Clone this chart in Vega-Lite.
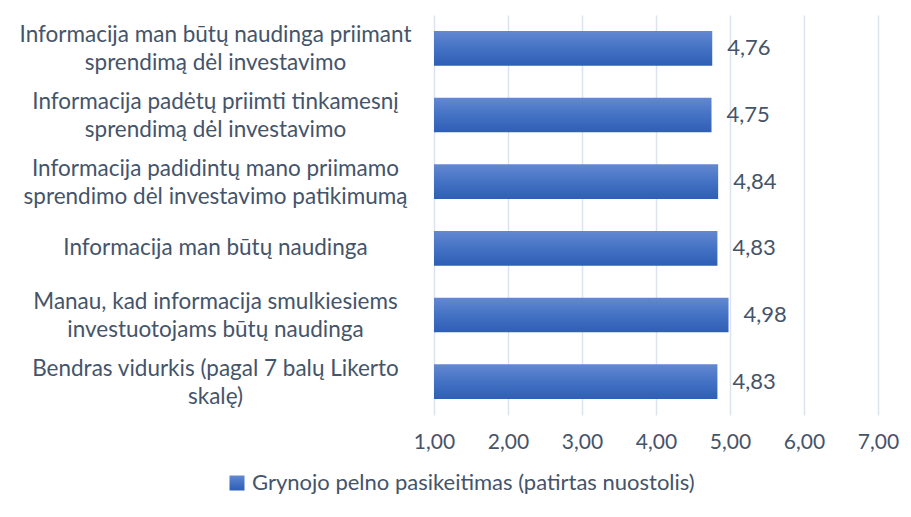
{
  "$schema": "https://vega.github.io/schema/vega-lite/v6.json",
  "width": 444,
  "height": 400,
  "autosize": {"type": "none"},
  "padding": {"left": 434, "top": 15, "right": 33, "bottom": 102},
  "background": "white",
  "config": {
    "font": "Lato",
    "view": {"stroke": null},
    "locale": {"number": {"decimal": ",", "thousands": " ", "grouping": [3], "currency": ["", " €"]}}
  },
  "data": {
    "values": [
      {"kategorija": "Informacija man būtų naudinga priimant|sprendimą dėl investavimo", "vidurkis": 4.76, "serija": "Grynojo pelno pasikeitimas (patirtas nuostolis)"},
      {"kategorija": "Informacija padėtų priimti tinkamesnį|sprendimą dėl investavimo", "vidurkis": 4.75, "serija": "Grynojo pelno pasikeitimas (patirtas nuostolis)"},
      {"kategorija": "Informacija padidintų mano priimamo|sprendimo dėl investavimo patikimumą", "vidurkis": 4.84, "serija": "Grynojo pelno pasikeitimas (patirtas nuostolis)"},
      {"kategorija": "Informacija man būtų naudinga", "vidurkis": 4.83, "serija": "Grynojo pelno pasikeitimas (patirtas nuostolis)"},
      {"kategorija": "Manau, kad informacija smulkiesiems|investuotojams būtų naudinga", "vidurkis": 4.98, "serija": "Grynojo pelno pasikeitimas (patirtas nuostolis)"},
      {"kategorija": "Bendras vidurkis (pagal 7 balų Likerto|skalę)", "vidurkis": 4.83, "serija": "Grynojo pelno pasikeitimas (patirtas nuostolis)"}
    ]
  },
  "encoding": {
    "y": {
      "field": "kategorija",
      "type": "nominal",
      "sort": null,
      "scale": {"paddingInner": 0.48, "paddingOuter": 0.24},
      "axis": {
        "title": null,
        "ticks": false,
        "domain": false,
        "grid": false,
        "labelExpr": "split(datum.label, '|')",
        "labelAlign": "center",
        "labelBaseline": "middle",
        "labelOffset": {"condition": {"test": "indexof(datum.value, '|') >= 0", "value": -13}, "value": 0},
        "labelPadding": 219,
        "labelFontSize": 22.5,
        "labelLineHeight": 28,
        "labelColor": "#44546a",
        "labelLimit": 500
      }
    },
    "x": {
      "field": "vidurkis",
      "type": "quantitative",
      "scale": {"domain": [1, 7], "zero": false, "nice": false},
      "axis": {
        "title": null,
        "values": [1, 2, 3, 4, 5, 6, 7],
        "format": ".2f",
        "ticks": false,
        "domain": false,
        "grid": true,
        "gridColor": "#dde3ec",
        "gridWidth": 1.5,
        "labelFlush": false,
        "labelOverlap": false,
        "labelPadding": 16,
        "labelFontSize": 21,
        "labelColor": "#44546a"
      }
    }
  },
  "layer": [
    {
      "mark": {
        "type": "bar",
        "strokeWidth": 0,
        "fill": {"gradient": "linear", "x1": 0, "y1": 0, "x2": 0, "y2": 1, "stops": [{"offset": 0, "color": "#6388d2"}, {"offset": 0.5, "color": "#4472c4"}, {"offset": 1, "color": "#2e5eb6"}]}
      },
      "encoding": {
        "x2": {"datum": 1},
        "stroke": {
          "field": "serija",
          "type": "nominal",
          "scale": {"range": ["#4472c4"]},
          "legend": {
            "title": null,
            "orient": "none",
            "legendX": -208,
            "legendY": 457,
            "direction": "horizontal",
            "symbolType": "square",
            "symbolSize": 225,
            "symbolFillColor": "#4472c4",
            "symbolStrokeWidth": 0,
            "labelFontSize": 22,
            "labelColor": "#44546a",
            "labelLimit": 600,
            "labelOffset": 4
          }
        }
      }
    },
    {
      "mark": {"type": "text", "align": "left", "baseline": "middle", "dx": 15, "fontSize": 22, "color": "#44546a"},
      "encoding": {
        "text": {"field": "vidurkis", "type": "quantitative", "format": ".2f"}
      }
    }
  ]
}
